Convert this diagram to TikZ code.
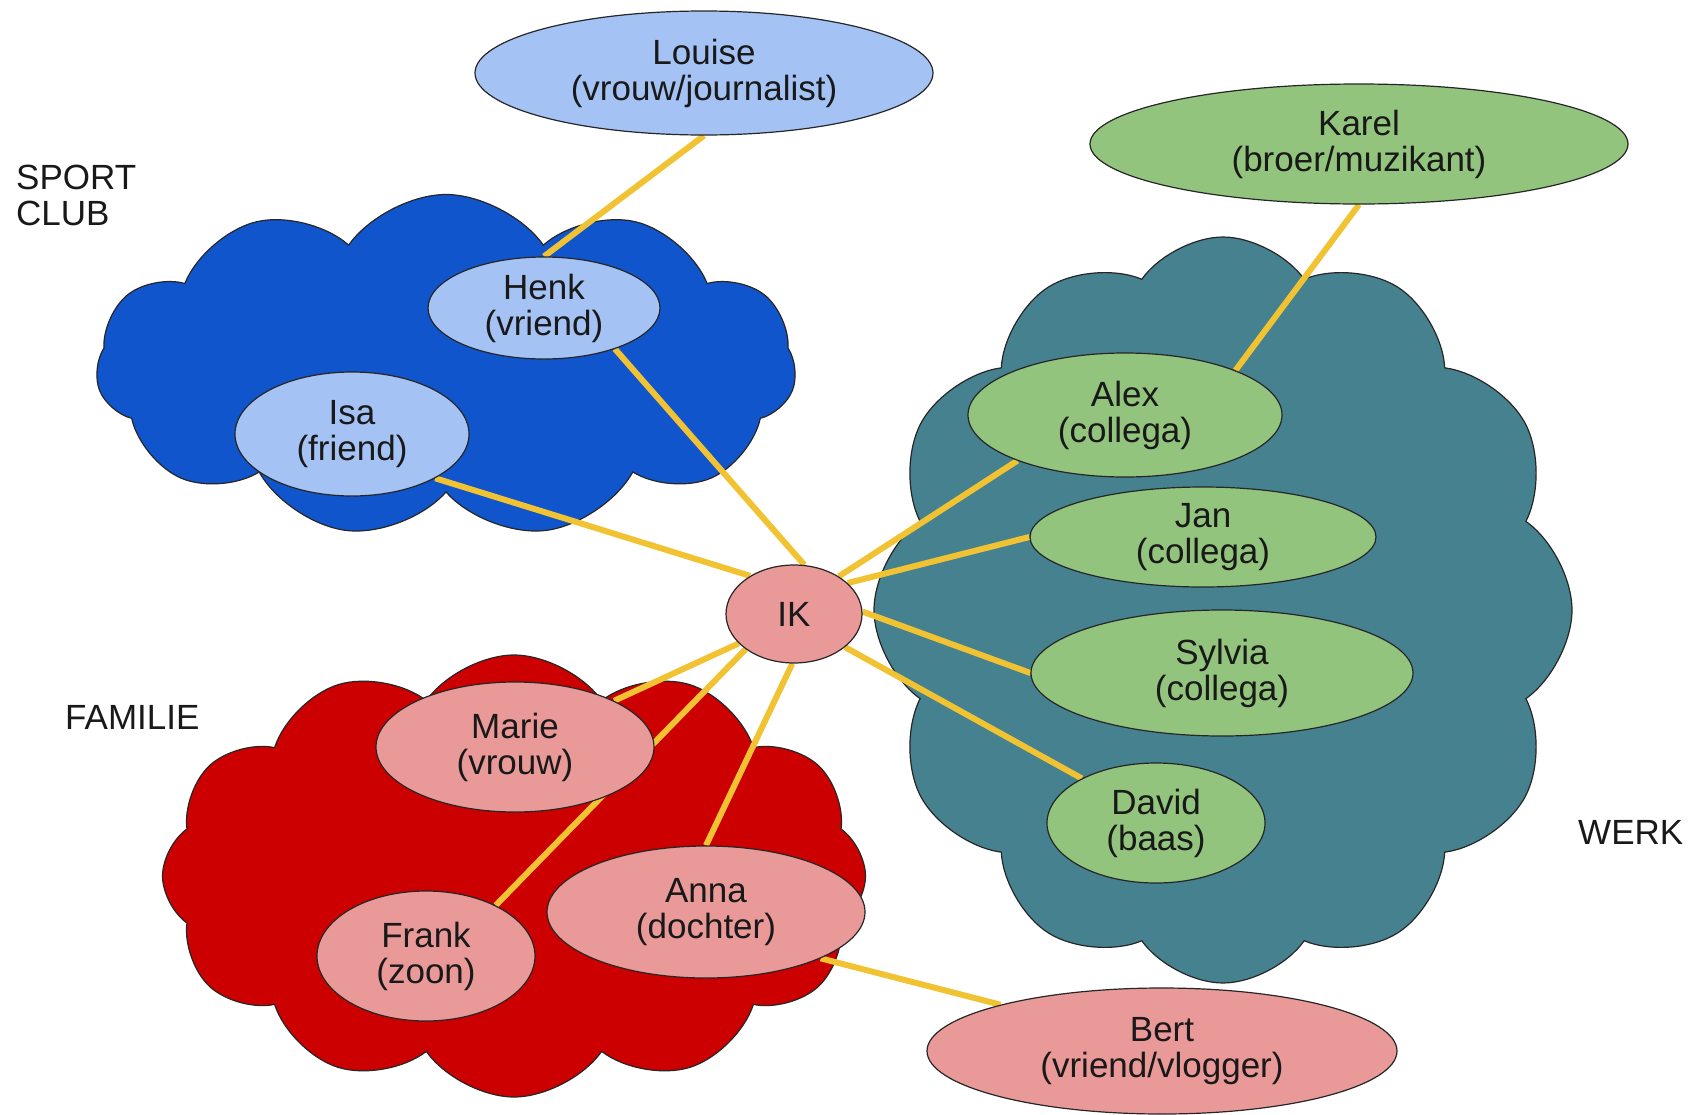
\documentclass[tikz,border=0pt]{standalone}
\usepackage{fontspec}
\setmainfont{Liberation Sans}
\usetikzlibrary{shapes.geometric,shapes.symbols}
\pgfdeclarelayer{bg}
\pgfdeclarelayer{mid}
\pgfsetlayers{bg,mid,main}
\definecolor{cblue}{HTML}{1155CC}
\definecolor{lblue}{HTML}{A4C2F4}
\definecolor{cteal}{HTML}{45818E}
\definecolor{lgreen}{HTML}{93C47D}
\definecolor{cred}{HTML}{CC0000}
\definecolor{lpink}{HTML}{EA9999}
\definecolor{cyellow}{HTML}{F1C232}
\begin{document}
\begin{tikzpicture}[x=1pt,y=-1pt,
  person/.style={ellipse, draw=black!85, line width=1.2pt, inner sep=0pt, align=center,
    font=\fontsize{35}{36}\selectfont, text=black!90},
  grp/.style={cloud, draw=black!85, line width=1.2pt, cloud puffs=11, cloud puff arc=110,
    cloud ignores aspect, inner sep=0pt},
  link/.style={draw=cyellow, line width=6pt},
  lbl/.style={font=\fontsize{35}{36}\selectfont, align=left, inner sep=0pt, anchor=west, text=black!90}]
\useasboundingbox (0,0) rectangle (1703,1114);

\begin{pgfonlayer}{bg}
\fill[white] (0,0) rectangle (1703,1114);
\node[grp, fill=cblue, minimum width=700, minimum height=343] (sport) at (446,366) {};
\node[grp, fill=cteal, minimum width=698, minimum height=746, cloud puffs=12] (werk) at (1223,610) {};
\node[grp, fill=cred, minimum width=703, minimum height=442, cloud puffs=12] (familie) at (514,876) {};
\end{pgfonlayer}

\node[lbl] (lsport) at (16,195) {SPORT\\CLUB};
\node[lbl] (lfam) at (65,717) {FAMILIE};
\node[lbl] (lwerk) at (1578,832) {WERK};

\node[person, fill=lblue, minimum width=458, minimum height=124] (louise) at (704,73) {Louise\\(vrouw/journalist)};
\node[person, fill=lgreen, minimum width=538, minimum height=120] (karel) at (1359,144) {Karel\\(broer/muzikant)};
\node[person, fill=lblue, minimum width=232, minimum height=102] (henk) at (544,308) {Henk\\(vriend)};
\node[person, fill=lblue, minimum width=234, minimum height=124] (isa) at (352,434) {Isa\\(friend)};
\node[person, fill=lgreen, minimum width=314, minimum height=124] (alex) at (1125,415) {Alex\\(collega)};
\node[person, fill=lgreen, minimum width=346, minimum height=100] (jan) at (1203,537) {Jan\\(collega)};
\node[person, fill=lgreen, minimum width=382, minimum height=126] (sylvia) at (1222,673) {Sylvia\\(collega)};
\node[person, fill=lgreen, minimum width=218, minimum height=120] (david) at (1156,823) {David\\(baas)};
\node[person, fill=lpink, minimum width=136, minimum height=98] (ik) at (794,614) {IK};
\node[person, fill=lpink, minimum width=278, minimum height=130] (marie) at (515,747) {Marie\\(vrouw)};
\node[person, fill=lpink, minimum width=218, minimum height=130] (frank) at (426,956) {Frank\\(zoon)};
\node[person, fill=lpink, minimum width=318, minimum height=132] (anna) at (706,912) {Anna\\(dochter)};
\node[person, fill=lpink, minimum width=470, minimum height=126] (bert) at (1162,1051) {Bert\\(vriend/vlogger)};

\begin{pgfonlayer}{mid}
\draw[link] (louise.south) -- (henk.north);
\draw[link] (karel.south) -- (alex.22);
\draw[link] (henk.-30) -- (ik.78);
\draw[link] (isa.-28) -- (ik.139);
\draw[link] (alex.203) -- (ik.40);
\draw[link] (jan.west) -- (ik.30);
\draw[link] (sylvia.west) -- (ik.2);
\draw[link] (david.149) -- (ik.-33);
\draw[link] (marie.25) -- (ik.208);
\draw[link] (frank.36) -- (ik.216);
\draw[link] (anna.north) -- (ik.268);
\draw[link] (anna.-22) -- (bert.164);
\end{pgfonlayer}
\end{tikzpicture}
\end{document}
